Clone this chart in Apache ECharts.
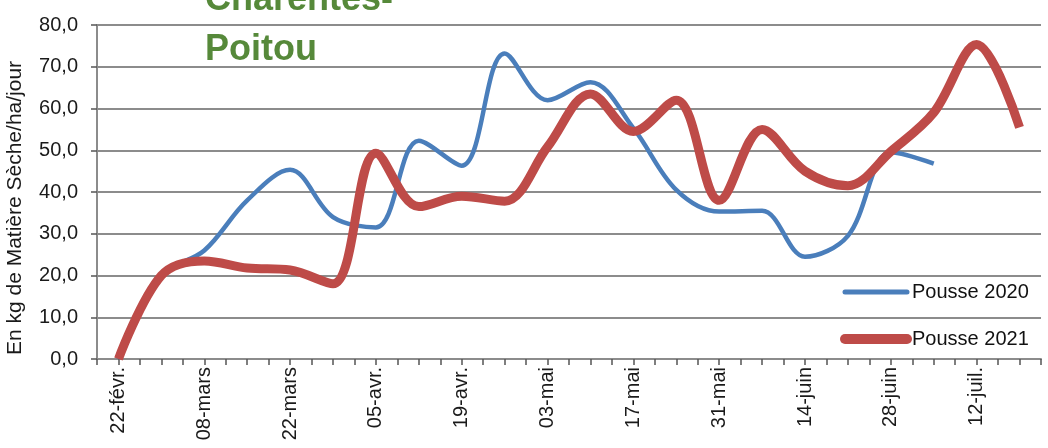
<!DOCTYPE html>
<html>
<head>
<meta charset="utf-8">
<script src="https://cdn.jsdelivr.net/npm/echarts@6/dist/echarts.min.js"></script>
<style>
  html, body { margin: 0; padding: 0; background: #fff; }
  #chart { width: 1048px; height: 448px; }
</style>
</head>
<body>
<div id="chart"></div>
<script>
// axis slots: twice a week (Mon / Thu), labels every 2 weeks
const categories = [
  '18-févr.', '22-févr.', '25-févr.', '01-mars', '04-mars', '08-mars', '11-mars', '15-mars', '18-mars',
  '22-mars', '25-mars', '29-mars', '01-avr.', '05-avr.', '08-avr.', '12-avr.', '15-avr.', '19-avr.',
  '22-avr.', '26-avr.', '29-avr.', '03-mai', '06-mai', '10-mai', '13-mai', '17-mai', '20-mai',
  '24-mai', '27-mai', '31-mai', '03-juin', '07-juin', '10-juin', '14-juin', '17-juin', '21-juin',
  '24-juin', '28-juin', '01-juil.', '05-juil.', '08-juil.', '12-juil.', '15-juil.', '19-juil.', '22-juil.'
]

// weekly measures (mondays)
const weeks2021 = ['22-févr.', '01-mars', '08-mars', '15-mars', '22-mars', '29-mars', '05-avr.', '12-avr.',
  '19-avr.', '26-avr.', '03-mai', '10-mai', '17-mai', '24-mai', '31-mai', '07-juin', '14-juin', '21-juin',
  '28-juin', '05-juil.', '12-juil.', '19-juil.']
const pousse2021 = [0, 20, 23.5, 21.8, 21.3, 18, 49.3, 36.5, 39, 37.8, 50.8, 63.5, 54.5, 62, 38, 55,
  45, 41.5, 49.7, 59, 75.3, 55.5]

const weeks2020 = weeks2021.slice(0, 20)
const pousse2020 = [0, 20, 26, 38, 45.3, 34, 31.5, 52.3, 46.3, 73.2, 62, 66.3, 55.3, 40.5, 35.3, 35.5,
  24.5, 29.5, 49.5, 46.8]

function toSlots(weeks, values) {
  const out = categories.map(() => null)
  weeks.forEach((w, i) => { out[categories.indexOf(w)] = values[i] })
  return out
}

const font = 'Liberation Sans'
const gridColor = '#8c8c8c'
const green = '#56893a'

const chart = echarts.init(document.getElementById('chart'))
chart.setOption({
  animation: false,
  textStyle: { fontFamily: font },
  grid: { left: 97, right: 7, top: 25, bottom: 89 },
  graphic: [
    {
      type: 'text', x: 15, y: 208, rotation: Math.PI / 2,
      style: { text: 'En kg de Matière Sèche/ha/jour', font: '21px ' + font, fill: '#1a1a1a',
        align: 'center', verticalAlign: 'middle' }
    },
    {
      type: 'text', x: 205, y: 0,
      style: { text: 'Charentes-', font: 'bold 36px ' + font, fill: green, verticalAlign: 'middle' }
    },
    {
      type: 'text', x: 205, y: 50,
      style: { text: 'Poitou', font: 'bold 36px ' + font, fill: green, verticalAlign: 'middle' }
    }
  ],
  legend: {
    orient: 'vertical',
    left: 840,
    top: 282,
    padding: 0,
    itemWidth: 62,
    itemHeight: 14,
    itemGap: 27,
    textStyle: { fontSize: 20, color: '#111' },
    data: [
      { name: 'Pousse 2020', itemStyle: { opacity: 0 }, lineStyle: { width: 5, cap: 'round' } },
      { name: 'Pousse 2021', itemStyle: { opacity: 0 }, lineStyle: { width: 10, cap: 'round' } }
    ]
  },
  xAxis: {
    type: 'category',
    data: categories,
    boundaryGap: false,
    axisLine: { lineStyle: { color: gridColor, width: 2 } },
    axisTick: { interval: 0, length: 6, lineStyle: { color: '#555', width: 1.5 } },
    axisLabel: {
      interval: (i) => i % 4 === 1,
      rotate: 90,
      margin: 8,
      fontSize: 20,
      color: '#1a1a1a'
    },
    splitLine: { show: false }
  },
  yAxis: {
    type: 'value',
    min: 0,
    max: 80,
    interval: 10,
    axisLine: { show: true, lineStyle: { color: gridColor, width: 2 } },
    axisTick: { show: true, length: 6, lineStyle: { color: '#555', width: 1.5 } },
    axisLabel: {
      margin: 19,
      fontSize: 20,
      color: '#1a1a1a',
      formatter: (v) => v.toFixed(1).replace('.', ',')
    },
    splitLine: { lineStyle: { color: gridColor, width: 2 } }
  },
  series: [
    {
      name: 'Pousse 2020',
      type: 'line',
      data: toSlots(weeks2020, pousse2020),
      connectNulls: true,
      smooth: 0.35,
      symbol: 'none',
      color: '#4a7ebb',
      lineStyle: { width: 4.5, color: '#4a7ebb' }
    },
    {
      name: 'Pousse 2021',
      type: 'line',
      data: toSlots(weeks2021, pousse2021),
      connectNulls: true,
      smooth: 0.35,
      symbol: 'none',
      color: '#be4b48',
      lineStyle: { width: 9, color: '#be4b48' }
    }
  ]
})
</script>
</body>
</html>
